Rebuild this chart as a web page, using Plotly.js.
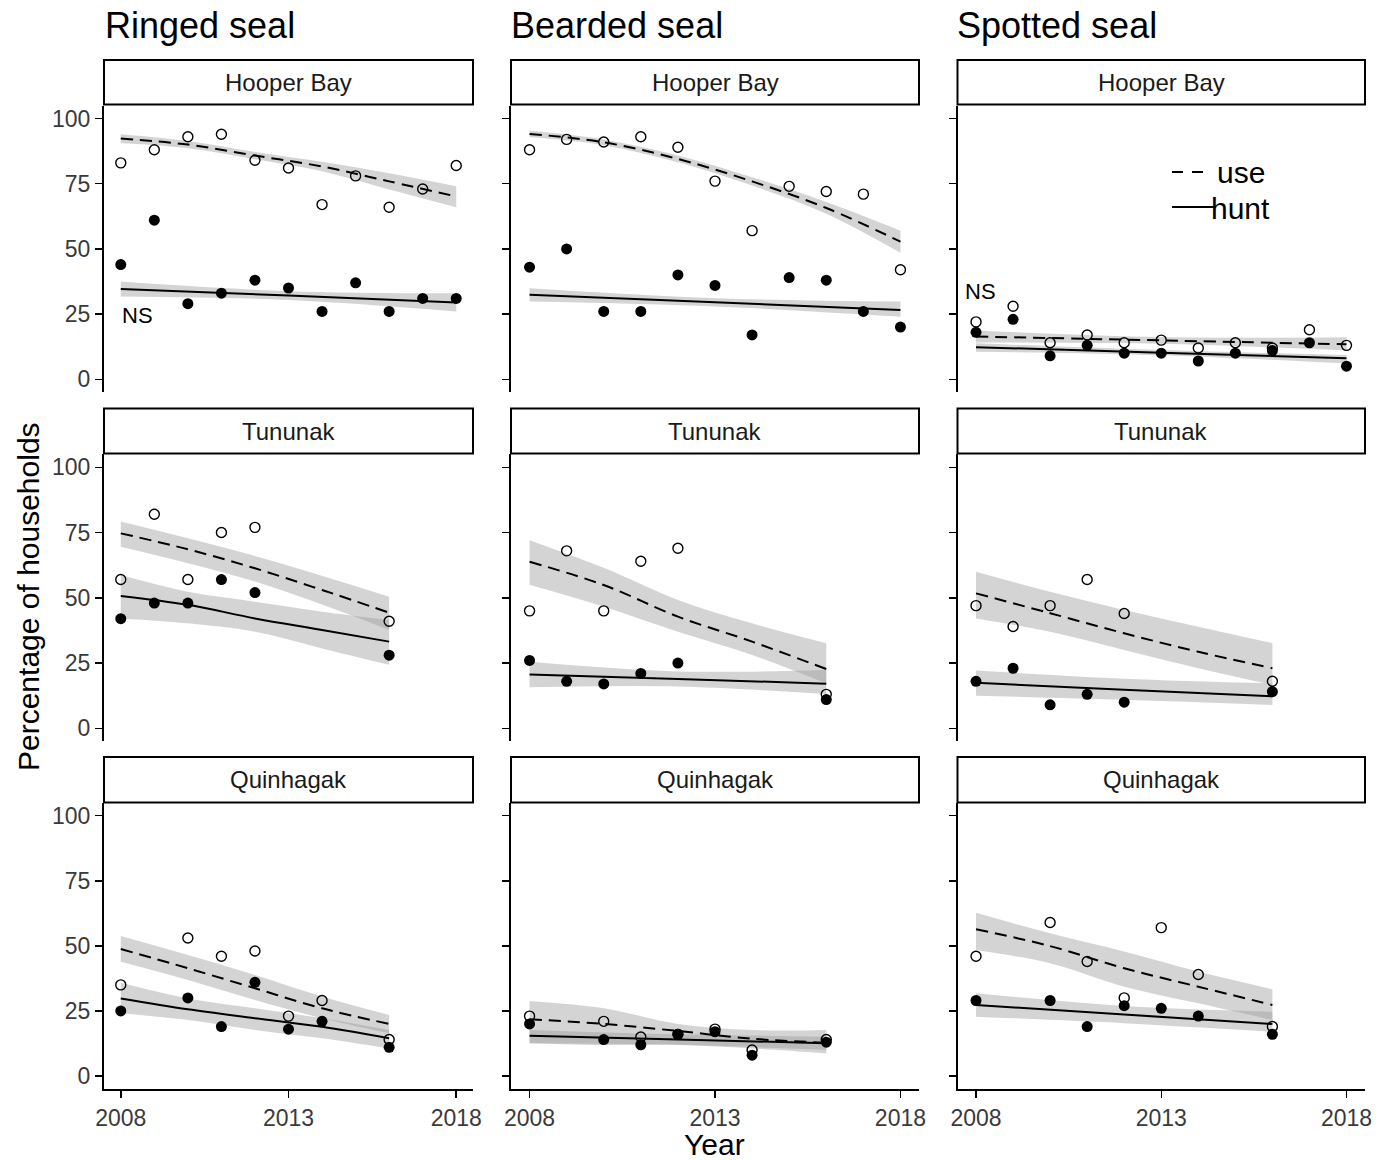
<!DOCTYPE html>
<html><head><meta charset="utf-8">
<script src="https://cdn.plot.ly/plotly-3.0.1.min.js"></script>
<style>html,body{margin:0;padding:0;background:#fff}#chart{width:1386px;height:1160px}</style>
</head><body><div id="chart"></div>
<script>
// ---------- DATA ----------
const speciesTitles = ["Ringed seal", "Bearded seal", "Spotted seal"];
const villages = ["Hooper Bay", "Tununak", "Quinhagak"];
const xTickVals = [2008, 2013, 2018];
const yTickVals = [0, 25, 50, 75, 100];

const yearsHB = [2008, 2009, 2010, 2011, 2012, 2013, 2014, 2015, 2016, 2017, 2018];
const yearsTun = [2008, 2009, 2010, 2011, 2012, 2016];
const yearsQuin = [2008, 2010, 2011, 2012, 2013, 2014, 2016];
const fitYearsHB = [2008, 2010, 2012, 2014, 2016, 2018];
const fitYearsHB3 = [2008, 2013, 2018];
const fitYears5 = [2008, 2010, 2012, 2014, 2016];
const fitYears3 = [2008, 2012, 2016];

// Ringed seal - Hooper Bay
const ringedHB_use = [83, 88, 93, 94, 84, 81, 67, 78, 66, 73, 82];
const ringedHB_hunt = [44, 61, 29, 33, 38, 35, 26, 37, 26, 31, 31];
const ringedHB_useFit = [92.3, 90.0, 85.8, 81.6, 75.9, 70.1];
const ringedHB_useLo = [90.6, 88.6, 84.4, 79.8, 72.8, 66.0];
const ringedHB_useHi = [94.0, 91.4, 87.2, 83.4, 79.0, 74.0];
const ringedHB_huntFit = [34.6, 32.1, 29.4];
const ringedHB_huntLo = [31.7, 30.4, 26.0];
const ringedHB_huntHi = [37.5, 33.8, 33.0];

// Bearded seal - Hooper Bay
const beardedHB_use = [88, 92, 91, 93, 89, 76, 57, 74, 72, 71, 42];
const beardedHB_hunt = [43, 50, 26, 26, 40, 36, 17, 39, 38, 26, 20];
const beardedHB_useFit = [94.1, 90.9, 84.5, 75.9, 65.7, 52.8];
const beardedHB_useLo = [92.9, 89.8, 83.2, 74.3, 63.5, 48.5];
const beardedHB_useHi = [95.3, 92.0, 85.8, 77.5, 68.0, 57.0];
const beardedHB_huntFit = [32.4, 29.5, 26.6];
const beardedHB_huntLo = [29.8, 27.9, 24.0];
const beardedHB_huntHi = [34.9, 31.1, 29.8];

// Spotted seal - Hooper Bay
const spottedHB_use = [22, 28, 14, 17, 14, 15, 12, 14, 12, 19, 13];
const spottedHB_hunt = [18, 23, 9, 13, 10, 10, 7, 10, 11, 14, 5];
const spottedHB_useFit = [16.4, 14.9, 13.4];
const spottedHB_useLo = [14.1, 13.6, 11.0];
const spottedHB_useHi = [18.7, 16.2, 16.1];
const spottedHB_huntFit = [12.3, 10.2, 8.1];
const spottedHB_huntLo = [10.6, 9.2, 6.1];
const spottedHB_huntHi = [13.8, 11.2, 9.3];

// Ringed seal - Tununak
const ringedTun_use = [57, 82, 57, 75, 77, 41];
const ringedTun_hunt = [42, 48, 48, 57, 52, 28];
const ringedTun_useFit = [74.7, 68.6, 61.3, 53.0, 44.3];
const ringedTun_useLo = [69.6, 56.2, 37.7];
const ringedTun_useHi = [79.2, 66.0, 50.4];
const ringedTun_huntFit = [50.7, 47.3, 42.1, 37.7, 33.2];
const ringedTun_huntLo = [42.1, 40.2, 37.0, 30.6, 24.3];
const ringedTun_huntHi = [58.7, 52.3, 48.5, 44.7, 41.5];

// Bearded seal - Tununak
const beardedTun_use = [45, 68, 45, 64, 69, 13];
const beardedTun_hunt = [26, 18, 17, 21, 25, 11];
const beardedTun_useFit = [63.8, 54.9, 42.8, 33.2, 22.7];
const beardedTun_useLo = [55.0, 46.6, 37.0, 28.1, 17.2];
const beardedTun_useHi = [72.1, 61.5, 49.2, 40.2, 32.6];
const beardedTun_huntFit = [20.6, 18.9, 17.1];
const beardedTun_huntLo = [15.7, 16.0, 13.1];
const beardedTun_huntHi = [25.5, 21.8, 22.3];

// Spotted seal - Tununak
const spottedTun_use = [47, 39, 47, 57, 44, 18];
const spottedTun_hunt = [18, 23, 9, 13, 10, 14];
const spottedTun_useFit = [51.7, 44.1, 36.4, 29.3, 23.0];
const spottedTun_useLo = [42.1, 37.0, 30.0, 23.0, 16.6];
const spottedTun_useHi = [60.0, 52.3, 45.3, 38.9, 32.6];
const spottedTun_huntFit = [17.4, 14.8, 12.3];
const spottedTun_huntLo = [12.5, 10.9, 8.9];
const spottedTun_huntHi = [22.1, 19.0, 17.2];

// Ringed seal - Quinhagak
const ringedQuin_use = [35, 53, 46, 48, 23, 29, 14];
const ringedQuin_hunt = [25, 30, 19, 36, 18, 21, 11];
const ringedQuin_useFit = [48.8, 41.4, 33.7, 26.0, 20.0];
const ringedQuin_useLo = [43.9, 36.9, 29.2, 22.2, 16.4];
const ringedQuin_useHi = [53.8, 46.5, 38.8, 30.5, 23.4];
const ringedQuin_huntFit = [29.8, 25.6, 22.2, 18.9, 14.5];
const ringedQuin_huntLo = [24.1, 21.5, 17.7, 14.5, 10.6];
const ringedQuin_huntHi = [35.8, 29.8, 26.0, 22.2, 17.7];

// Bearded seal - Quinhagak
const beardedQuin_use = [23, 21, 15, 16, 18, 10, 14];
const beardedQuin_hunt = [20, 14, 12, 16, 17, 8, 13];
const beardedQuin_useFit = [21.8, 20.0, 17.3, 14.3, 12.8];
const beardedQuin_useLo = [12.6, 11.9, 11.9, 10.6, 8.7];
const beardedQuin_useHi = [28.8, 26.0, 20.0, 17.7, 17.7];
const beardedQuin_huntFit = [15.5, 14.0, 12.6];
const beardedQuin_huntLo = [12.6, 12.0, 10.0];
const beardedQuin_huntHi = [17.7, 16.0, 15.1];

// Spotted seal - Quinhagak
const spottedQuin_use = [46, 59, 44, 30, 57, 39, 19];
const spottedQuin_hunt = [29, 29, 19, 27, 26, 23, 16];
const spottedQuin_useFit = [56.4, 49.9, 41.4, 34.3, 27.3];
const spottedQuin_useLo = [48.4, 43.3, 34.3, 27.9, 21.5];
const spottedQuin_useHi = [62.7, 54.8, 47.8, 40.1, 33.3];
const spottedQuin_huntFit = [27.3, 23.6, 20.0];
const spottedQuin_huntLo = [22.8, 20.3, 17.0];
const spottedQuin_huntHi = [31.8, 26.9, 24.7];

// ---------- PANELS ----------
const panels = [
  {yrs: yearsHB, use: ringedHB_use, hunt: ringedHB_hunt, ufx: fitYearsHB, uf: ringedHB_useFit, urx: fitYearsHB, ulo: ringedHB_useLo, uhi: ringedHB_useHi, hfx: fitYearsHB3, hf: ringedHB_huntFit, hrx: fitYearsHB3, hlo: ringedHB_huntLo, hhi: ringedHB_huntHi},
  {yrs: yearsHB, use: beardedHB_use, hunt: beardedHB_hunt, ufx: fitYearsHB, uf: beardedHB_useFit, urx: fitYearsHB, ulo: beardedHB_useLo, uhi: beardedHB_useHi, hfx: fitYearsHB3, hf: beardedHB_huntFit, hrx: fitYearsHB3, hlo: beardedHB_huntLo, hhi: beardedHB_huntHi},
  {yrs: yearsHB, use: spottedHB_use, hunt: spottedHB_hunt, ufx: fitYearsHB3, uf: spottedHB_useFit, urx: fitYearsHB3, ulo: spottedHB_useLo, uhi: spottedHB_useHi, hfx: fitYearsHB3, hf: spottedHB_huntFit, hrx: fitYearsHB3, hlo: spottedHB_huntLo, hhi: spottedHB_huntHi},
  {yrs: yearsTun, use: ringedTun_use, hunt: ringedTun_hunt, ufx: fitYears5, uf: ringedTun_useFit, urx: fitYears3, ulo: ringedTun_useLo, uhi: ringedTun_useHi, hfx: fitYears5, hf: ringedTun_huntFit, hrx: fitYears5, hlo: ringedTun_huntLo, hhi: ringedTun_huntHi},
  {yrs: yearsTun, use: beardedTun_use, hunt: beardedTun_hunt, ufx: fitYears5, uf: beardedTun_useFit, urx: fitYears5, ulo: beardedTun_useLo, uhi: beardedTun_useHi, hfx: fitYears3, hf: beardedTun_huntFit, hrx: fitYears3, hlo: beardedTun_huntLo, hhi: beardedTun_huntHi},
  {yrs: yearsTun, use: spottedTun_use, hunt: spottedTun_hunt, ufx: fitYears5, uf: spottedTun_useFit, urx: fitYears5, ulo: spottedTun_useLo, uhi: spottedTun_useHi, hfx: fitYears3, hf: spottedTun_huntFit, hrx: fitYears3, hlo: spottedTun_huntLo, hhi: spottedTun_huntHi},
  {yrs: yearsQuin, use: ringedQuin_use, hunt: ringedQuin_hunt, ufx: fitYears5, uf: ringedQuin_useFit, urx: fitYears5, ulo: ringedQuin_useLo, uhi: ringedQuin_useHi, hfx: fitYears5, hf: ringedQuin_huntFit, hrx: fitYears5, hlo: ringedQuin_huntLo, hhi: ringedQuin_huntHi},
  {yrs: yearsQuin, use: beardedQuin_use, hunt: beardedQuin_hunt, ufx: fitYears5, uf: beardedQuin_useFit, urx: fitYears5, ulo: beardedQuin_useLo, uhi: beardedQuin_useHi, hfx: fitYears3, hf: beardedQuin_huntFit, hrx: fitYears3, hlo: beardedQuin_huntLo, hhi: beardedQuin_huntHi},
  {yrs: yearsQuin, use: spottedQuin_use, hunt: spottedQuin_hunt, ufx: fitYears5, uf: spottedQuin_useFit, urx: fitYears5, ulo: spottedQuin_useLo, uhi: spottedQuin_useHi, hfx: fitYears3, hf: spottedQuin_huntFit, hrx: fitYears3, hlo: spottedQuin_huntLo, hhi: spottedQuin_huntHi}
];

// ---------- LAYOUT GEOMETRY (pixels) ----------
const W = 1386, H = 1160;
const colPx = [[104, 473], [511, 919], [957.5, 1365]];
const rowPx = [[105.5, 392.3], [454.3, 741.3], [802.7, 1089]];
const stripPx = [[60, 104.5], [408.5, 453.5], [757, 802.5]];
const px = v => v / W;
const py = v => 1 - v / H;
const FONT = "Liberation Sans, Arial, Helvetica, sans-serif";
const RIBBON = "rgba(153,153,153,0.42)";

const traces = [];
const layout = {
  width: W, height: H,
  margin: {l: 0, r: 0, t: 0, b: 0},
  paper_bgcolor: "#ffffff", plot_bgcolor: "rgba(0,0,0,0)",
  showlegend: false,
  font: {family: FONT, color: "#000"},
  shapes: [], annotations: []
};

panels.forEach((p, k) => {
  const r = Math.floor(k / 3), c = k % 3;
  const s = k === 0 ? "" : String(k + 1);
  const xa = "x" + s, ya = "y" + s;
  const ribbon = (x, lo, hi) => {
    traces.push({x: x, y: lo, xaxis: xa, yaxis: ya, mode: "lines", line: {width: 0, shape: "spline"}, hoverinfo: "skip"});
    traces.push({x: x, y: hi, xaxis: xa, yaxis: ya, mode: "lines", line: {width: 0, shape: "spline"}, fill: "tonexty", fillcolor: RIBBON, hoverinfo: "skip"});
  };
  ribbon(p.urx, p.ulo, p.uhi);
  ribbon(p.hrx, p.hlo, p.hhi);
  traces.push({x: p.ufx, y: p.uf, xaxis: xa, yaxis: ya, mode: "lines", line: {color: "#000", width: 2, dash: "12px,7px", shape: "spline"}});
  traces.push({x: p.hfx, y: p.hf, xaxis: xa, yaxis: ya, mode: "lines", line: {color: "#000", width: 2, shape: "spline"}});
  traces.push({x: p.yrs, y: p.use, xaxis: xa, yaxis: ya, mode: "markers", marker: {symbol: "circle-open", size: 10, color: "#000", line: {width: 1.4, color: "#000"}}});
  traces.push({x: p.yrs, y: p.hunt, xaxis: xa, yaxis: ya, mode: "markers", marker: {symbol: "circle", size: 11, color: "#000"}});

  const bottom = r === 2;
  layout["xaxis" + s] = {
    domain: [px(colPx[c][0]), px(colPx[c][1])], anchor: ya,
    range: [2007.5, 2018.5], tickvals: xTickVals, ticktext: xTickVals.map(String),
    showline: bottom, linecolor: "#000", linewidth: 2,
    ticks: bottom ? "outside" : "", ticklen: 7, tickwidth: 1.5, tickcolor: "#000",
    showticklabels: bottom, tickfont: {family: FONT, size: 23, color: "#3a3a3a"},
    showgrid: false, zeroline: false, fixedrange: true
  };
  layout["yaxis" + s] = {
    domain: [py(rowPx[r][1]), py(rowPx[r][0])], anchor: xa,
    range: [-5, 105], tickvals: yTickVals, ticktext: yTickVals.map(String),
    showline: true, linecolor: "#000", linewidth: 2,
    ticks: "outside", ticklen: 7, tickwidth: 1.5, tickcolor: "#000",
    showticklabels: c === 0, tickfont: {family: FONT, size: 23, color: "#3a3a3a"},
    showgrid: false, zeroline: false, fixedrange: true
  };
});

// strips
for (let r = 0; r < 3; r++) {
  for (let c = 0; c < 3; c++) {
    layout.shapes.push({type: "rect", xref: "paper", yref: "paper",
      x0: px(colPx[c][0]), x1: px(colPx[c][1]), y0: py(stripPx[r][1]), y1: py(stripPx[r][0]),
      line: {color: "#000", width: 2}, fillcolor: "#fff", layer: "above"});
    layout.annotations.push({xref: "paper", yref: "paper",
      x: px((colPx[c][0] + colPx[c][1]) / 2), y: py((stripPx[r][0] + stripPx[r][1]) / 2),
      text: villages[r], showarrow: false, xanchor: "center", yanchor: "middle",
      font: {family: FONT, size: 24, color: "#1a1a1a"}});
  }
}
// species titles
const titleX = [103, 509, 955];
speciesTitles.forEach((t, c) => {
  layout.annotations.push({xref: "paper", yref: "paper", x: px(titleX[c]), y: py(25),
    text: t, showarrow: false, xanchor: "left", yanchor: "middle",
    font: {family: FONT, size: 36, color: "#000"}});
});
// axis titles
layout.annotations.push({xref: "paper", yref: "paper", x: px(28), y: py(597),
  text: "Percentage of households", showarrow: false, textangle: -90,
  xanchor: "center", yanchor: "middle", font: {family: FONT, size: 30, color: "#000"}});
layout.annotations.push({xref: "paper", yref: "paper", x: px(714), y: py(1144),
  text: "Year", showarrow: false, xanchor: "center", yanchor: "middle",
  font: {family: FONT, size: 30, color: "#000"}});
// NS labels
layout.annotations.push({xref: "paper", yref: "paper", x: px(137), y: py(315),
  text: "NS", showarrow: false, xanchor: "center", yanchor: "middle",
  font: {family: FONT, size: 22, color: "#000"}});
layout.annotations.push({xref: "paper", yref: "paper", x: px(980), y: py(292),
  text: "NS", showarrow: false, xanchor: "center", yanchor: "middle",
  font: {family: FONT, size: 22, color: "#000"}});
// legend inside Spotted / Hooper Bay panel
layout.shapes.push({type: "line", xref: "paper", yref: "paper", x0: px(1172), x1: px(1207), y0: py(172), y1: py(172),
  line: {color: "#000", width: 2, dash: "11px,9px"}});
layout.shapes.push({type: "line", xref: "paper", yref: "paper", x0: px(1172), x1: px(1215), y0: py(207), y1: py(207),
  line: {color: "#000", width: 2}});
layout.annotations.push({xref: "paper", yref: "paper", x: px(1215), y: py(173),
  text: "use", showarrow: false, xanchor: "left", yanchor: "middle",
  font: {family: FONT, size: 30, color: "#000"}});
layout.annotations.push({xref: "paper", yref: "paper", x: px(1209), y: py(208),
  text: "hunt", showarrow: false, xanchor: "left", yanchor: "middle",
  font: {family: FONT, size: 30, color: "#000"}});

traces.forEach(t => { t.showlegend = false; });
Plotly.newPlot("chart", traces, layout, {displayModeBar: false, staticPlot: true});
</script></body></html>
